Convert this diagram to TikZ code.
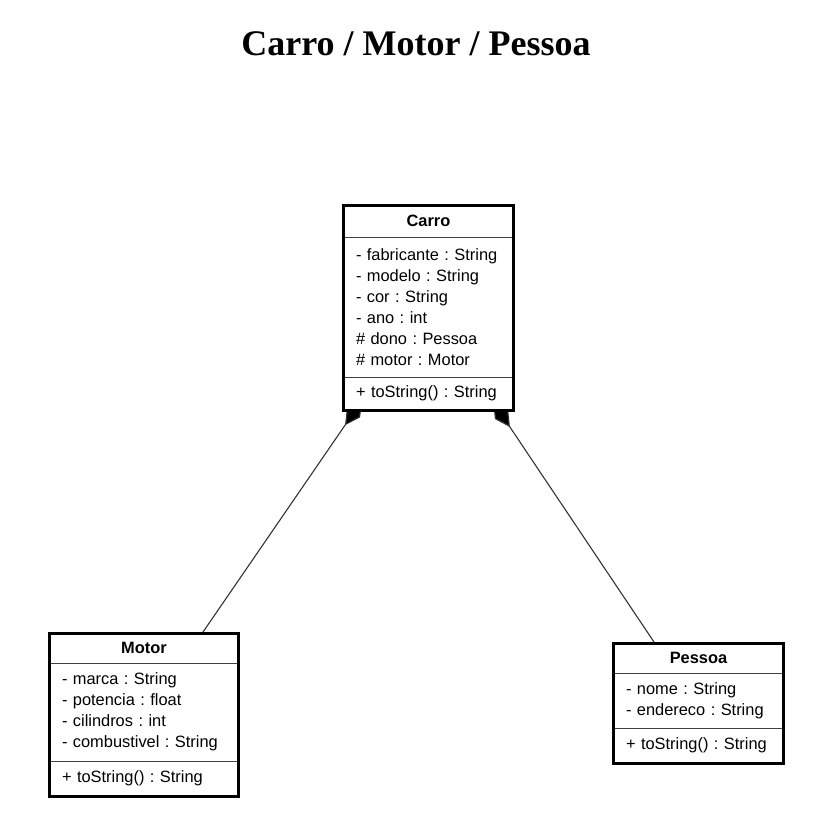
\documentclass[tikz,border=0pt]{standalone}
\usepackage{fontspec}
\setmainfont{Liberation Serif}
\newfontfamily\umlfont{Liberation Sans}
\usetikzlibrary{positioning,arrows.meta,backgrounds,calc}
\frenchspacing

\begin{document}
\begin{tikzpicture}[x=1pt, y=-1pt,
        every node/.style={font=\umlfont\fontsize{16.4}{21}\selectfont, outer sep=0pt},
        classhead/.style={draw=black!75, fill=white, minimum width=#1, minimum height=29.5pt, inner sep=0pt, anchor=north, font=\umlfont\bfseries\fontsize{16.4}{21}\selectfont},
        classbody/.style={draw=black!75, fill=white, text width=#1, inner xsep=12.5pt, inner ysep=0pt, align=left},
        classborder/.style={draw=black, line width=3pt},
        composition/.style={draw=black!80, line width=1.1pt, {Diamond[length=30pt,width=16pt,fill=black]}-}]
    \useasboundingbox (0,0) rectangle (819,824);
    \node[font=\bfseries\fontsize{36}{40}\selectfont, anchor=base] (title) at (416,56) {Carro / Motor / Pessoa};

    % Carro
    \node[classhead=170pt, minimum height=31.5pt] (carro) at (428.5,205.5) {Carro};
    \node[classbody=145pt, minimum height=140pt, below=0pt of carro] (carroA) {- fabricante : String\\- modelo : String\\- cor : String\\- ano : int\\\# dono : Pessoa\\\# motor : Motor};
    \node[classbody=145pt, minimum height=33.5pt, below=0pt of carroA] (carroM) {+ toString() : String};
    \draw[classborder] (carro.north west) rectangle (carroM.south east);

    % Motor
    \node[classhead=189pt] (motor) at (144,633.5) {Motor};
    \node[classbody=164pt, minimum height=98pt, below=0pt of motor] (motorA) {- marca : String\\- potencia : float\\- cilindros : int\\- combustivel : String};
    \node[classbody=164pt, minimum height=35.5pt, below=0pt of motorA] (motorM) {+ toString() : String};
    \draw[classborder] (motor.north west) rectangle (motorM.south east);

    % Pessoa
    \node[classhead=170pt] (pessoa) at (698.5,643.5) {Pessoa};
    \node[classbody=145pt, minimum height=55pt, below=0pt of pessoa] (pessoaA) {- nome : String\\- endereco : String};
    \node[classbody=145pt, minimum height=35.5pt, below=0pt of pessoaA] (pessoaM) {+ toString() : String};
    \draw[classborder] (pessoa.north west) rectangle (pessoaM.south east);

    % composicao
    \begin{scope}[on background layer]
        \coordinate (motortop) at ($(motor.north)+(58,0)$);
        \coordinate (pessoatop) at ($(pessoa.north)+(-43.5,0)$);
        \draw[composition] ($(carroM.south west)+(18.5,-10)$) -- (motortop);
        \draw[composition] ($(carroM.south east)+(-20.3,-8.4)$) -- (pessoatop);
    \end{scope}
\end{tikzpicture}
\end{document}
